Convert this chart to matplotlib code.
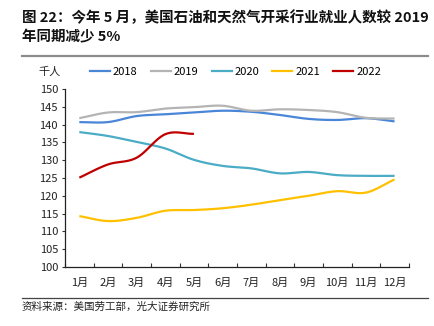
import numpy as np
import matplotlib
matplotlib.use("Agg")
import matplotlib.pyplot as plt
from matplotlib.lines import Line2D

plt.rcParams['font.family'] = ['Noto Sans CJK SC', 'DejaVu Sans']

months = ["1月", "2月", "3月", "4月", "5月", "6月", "7月", "8月", "9月", "10月", "11月", "12月"]
y2018 = [140.7, 140.7, 142.4, 142.9, 143.4, 143.9, 143.6, 142.7, 141.6, 141.3, 141.8, 140.9]
y2019 = [141.8, 143.4, 143.5, 144.5, 144.9, 145.3, 143.9, 144.3, 144.1, 143.5, 141.9, 141.7]
y2020 = [137.9, 136.8, 135.1, 133.3, 130.1, 128.4, 127.7, 126.3, 126.7, 125.8, 125.6, 125.6]
y2021 = [114.3, 112.9, 113.8, 115.8, 116.0, 116.5, 117.5, 118.8, 120.0, 121.3, 120.9, 124.6]
y2022 = [125.1, 128.8, 130.7, 137.3, 137.4]
series_names = ["2018", "2019", "2020", "2021", "2022"]
series_vals = [y2018, y2019, y2020, y2021, y2022]
colors = ["#4A86D8", "#B4B4B4", "#4BACC6", "#FFC000", "#C00000"]
yticks = [100, 105, 110, 115, 120, 125, 130, 135, 140, 145, 150]


def smooth(x, y, n=20):
    x = np.asarray(x, float); y = np.asarray(y, float)
    if len(x) < 3:
        return x, y
    px = np.concatenate([[2 * x[0] - x[1]], x, [2 * x[-1] - x[-2]]])
    py = np.concatenate([[2 * y[0] - y[1]], y, [2 * y[-1] - y[-2]]])
    xs, ys = [], []
    for i in range(1, len(px) - 2):
        t = np.linspace(0, 1, n, endpoint=False)
        for arr, out in ((px, xs), (py, ys)):
            p0, p1, p2, p3 = arr[i - 1], arr[i], arr[i + 1], arr[i + 2]
            out.extend(0.5 * ((2 * p1) + (-p0 + p2) * t + (2 * p0 - 5 * p1 + 4 * p2 - p3) * t ** 2
                               + (-p0 + 3 * p1 - 3 * p2 + p3) * t ** 3))
    xs.append(x[-1]); ys.append(y[-1])
    return np.array(xs), np.array(ys)


fig = plt.figure(figsize=(4.35, 3.26), dpi=100)
ax = fig.add_axes([0.1494, 0.181, 0.7906, 0.546])

for name, vals, c in zip(series_names, series_vals, colors):
    x = np.arange(len(vals))
    sx, sy = smooth(x, vals)
    ax.plot(sx, sy, color=c, lw=1.6, solid_capstyle='butt')

ax.set_xlim(-0.5, len(months) - 0.5)
ax.set_ylim(100, 150)
ax.set_yticks(yticks)
ax.set_yticklabels([str(v) for v in yticks], fontsize=8, color="#222222")
ax.set_xticks(np.arange(len(months)))
ax.set_xticklabels(months, fontsize=8, color="#222222")
ax.set_xticks(np.arange(-0.5, len(months)), minor=True)
ax.tick_params(axis='x', which='major', length=0, pad=8)
ax.tick_params(axis='x', which='minor', length=3, direction='in', color="#333333", width=0.8)
ax.tick_params(axis='y', length=2, direction='out', color="#333333", width=0.8, pad=3)
for s in ['top', 'right']:
    ax.spines[s].set_visible(False)
for s in ['left', 'bottom']:
    ax.spines[s].set_color("#222222")
    ax.spines[s].set_linewidth(0.9)

# unit label
fig.text(38 / 435, 1 - 72 / 326, "千人", fontsize=8, va='center', ha='left', color="#222222")

# legend
handles = [Line2D([0], [0], color=c, lw=1.6) for c in colors]
leg = fig.legend(handles, series_names, loc='center left', bbox_to_anchor=(90 / 435, 1 - 72 / 326),
                 ncol=5, frameon=False, fontsize=8, handlelength=1.8, handletextpad=0.25,
                 columnspacing=1.2, borderaxespad=0, borderpad=0)

# title
fig.text(22 / 435, 1 - 18 / 326, "图 22：今年 5 月，美国石油和天然气开采行业就业人数较 2019",
         fontsize=10.45, fontweight='bold', va='center', ha='left', color="#111111")
fig.text(22 / 435, 1 - 37 / 326, "年同期减少 5%",
         fontsize=10.45, fontweight='bold', va='center', ha='left', color="#111111")
fig.add_artist(Line2D([22 / 435, 428 / 435], [1 - 56 / 326, 1 - 56 / 326], color="#8C8C8C", lw=1.6))

# source
fig.add_artist(Line2D([22 / 435, 428 / 435], [1 - 298 / 326, 1 - 298 / 326], color="#444444", lw=0.9))
fig.text(22 / 435, 1 - 307 / 326, "资料来源：美国劳工部，光大证券研究所", fontsize=7.6,
         va='center', ha='left', color="#222222")

fig.savefig("out.png", dpi=100)
